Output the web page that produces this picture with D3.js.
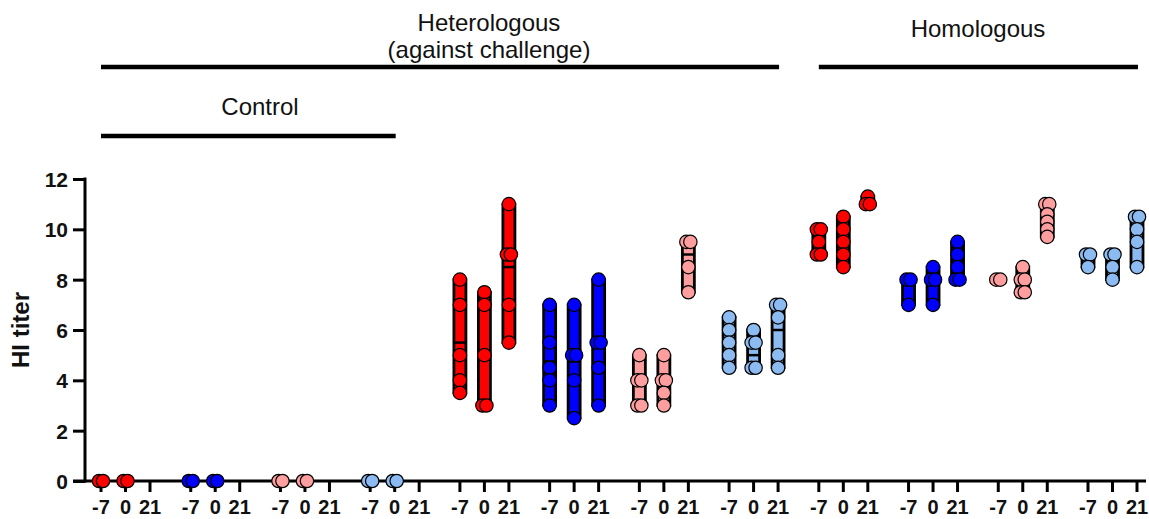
<!DOCTYPE html>
<html>
<head>
<meta charset="utf-8">
<script src="https://cdn.jsdelivr.net/npm/d3@7"></script>
<style>
  html, body { margin: 0; padding: 0; background: #fff; }
  svg { display: block; }
  text { font-family: "Liberation Sans", Arial, sans-serif; }
</style>
</head>
<body>
<svg id="chart" width="1149" height="519"></svg>
<script>
// ---------------- DATA ----------------
const groups = ["Ctrl-A", "Ctrl-B", "Ctrl-C", "Ctrl-D",
                "Het-A", "Het-B", "Het-C", "Het-D",
                "Hom-A", "Hom-B", "Hom-C", "Hom-D"];
const days = ["-7", "0", "21"];
const groupColors = ["#FF0000", "#0000FF", "#FF9E9E", "#8CBBF2",
                     "#FF0000", "#0000FF", "#FF9E9E", "#8CBBF2",
                     "#FF0000", "#0000FF", "#FF9E9E", "#8CBBF2"];
// HI titer values per group, per day (-7, 0, 21)
const ctrlA = [[0, 0], [0, 0], []];
const ctrlB = [[0, 0], [0, 0], []];
const ctrlC = [[0, 0], [0, 0], []];
const ctrlD = [[0, 0], [0, 0], []];
const hetA = [[8, 7, 5, 4, 3.5], [7.5, 7, 5, 3, 3], [11, 9, 9, 7, 5.5]];
const hetB = [[7, 5.5, 4.5, 4, 3], [7, 5, 5, 4, 2.5], [8, 5.5, 5.5, 4.5, 3]];
const hetC = [[5, 4, 4, 3, 3], [5, 4, 4, 3.5, 3], [9.5, 9.5, 8.5, 7.5]];
const hetD = [[6.5, 6, 5.5, 5, 4.5], [6, 5.5, 5.5, 4.5, 4.5], [7, 7, 6.5, 5, 4.5]];
const homA = [[10, 10, 9.5, 9, 9], [10.5, 10, 9.5, 9, 8.5], [11.3, 11, 11]];
const homB = [[8, 8, 7], [8.5, 8, 8, 7], [9.5, 9, 8.5, 8, 8]];
const homC = [[8, 8], [8.5, 8, 8, 7.5, 7.5], [11, 11, 10.6, 10.3, 10, 9.7]];
const homD = [[9, 9, 8.5], [9, 9, 8.5, 8], [10.5, 10.5, 10, 9.5, 8.5]];
// medians (horizontal line in each floating bar)
const medians = [
  [0, 0, null], [0, 0, null], [0, 0, null], [0, 0, null],
  [5.5, 5, 8.5], [4.75, 4.75, 5.5], [4, 4, 9], [5.5, 5, 6],
  [9.5, 9.5, 11], [8, 8, 8.5], [8, 8, 10.3], [9, 8.75, 10]
];
const groupValues = [ctrlA, ctrlB, ctrlC, ctrlD, hetA, hetB, hetC, hetD, homA, homB, homC, homD];
const yTicks = [0, 2, 4, 6, 8, 10, 12];
const yLabel = "HI titer";
const brackets = [
  { label: ["Heterologous", "(against challenge)"], from: ["Ctrl-A", "-7"], to: ["Het-D", "21"], lineY: 67, textY: [31, 58], tx: 489 },
  { label: ["Homologous"], from: ["Hom-A", "-7"], to: ["Hom-D", "21"], lineY: 67, textY: [37], tx: 978 },
  { label: ["Control"], from: ["Ctrl-A", "-7"], to: ["Ctrl-D", "0"], lineY: 136, textY: [115], tx: 260 }
];

// ---------------- LAYOUT ----------------
const svg = d3.select("#chart");
const y = d3.scaleLinear().domain([0, 12]).range([481, 179]);
const xGroup = d3.scalePoint().domain(groups).range([101, 1088]);
const xDay = d3.scalePoint().domain(days).range([0, 49]);
const xPos = (g, d) => xGroup(g) + xDay(d);
const axisX = 85;

// flatten
const cells = [];
groups.forEach((g, gi) => {
  days.forEach((d, di) => {
    const vals = groupValues[gi][di];
    if (vals.length) {
      cells.push({ g, d, color: groupColors[gi], vals, med: medians[gi][di] });
    }
  });
});

// ---------------- AXES ----------------
const yAxis = d3.axisLeft(y).tickValues(yTicks).tickSize(12).tickPadding(5).tickFormat(d3.format("d"));
const gy = svg.append("g").attr("transform", `translate(${axisX},0)`).call(yAxis);
gy.select(".domain").remove();
gy.selectAll(".tick line").attr("stroke", "#000").attr("stroke-width", 3);
gy.selectAll(".tick text").attr("font-size", 21).attr("font-weight", "bold").attr("fill", "#111")
  .attr("dy", "0.36em")
  .style("font-family", "'Liberation Sans', Arial, sans-serif");
svg.append("line").attr("x1", axisX).attr("x2", axisX)
  .attr("y1", y(12) - 1.5).attr("y2", y(0) + 1.5)
  .attr("stroke", "#000").attr("stroke-width", 3);

// x axis
svg.append("line").attr("x1", 73).attr("x2", 1146).attr("y1", y(0)).attr("y2", y(0))
  .attr("stroke", "#000").attr("stroke-width", 3);
const xt = svg.append("g");
groups.forEach(g => {
  days.forEach(d => {
    const px = xPos(g, d);
    xt.append("line").attr("x1", px).attr("x2", px).attr("y1", y(0)).attr("y2", y(0) + 11)
      .attr("stroke", "#000").attr("stroke-width", 3);
    xt.append("text").attr("x", px).attr("y", 514).attr("text-anchor", "middle")
      .attr("font-size", 20).attr("font-weight", "bold").attr("fill", "#111").text(d);
  });
});

// y label
svg.append("text").attr("transform", `translate(29,330) rotate(-90)`)
  .attr("text-anchor", "middle").attr("font-size", 24).attr("font-weight", "bold")
  .attr("fill", "#111").text(yLabel);

// ---------------- BARS ----------------
const barW = 12;
const bars = svg.append("g");
cells.forEach(c => {
  const cx = xPos(c.g, c.d);
  const ext = d3.extent(c.vals);
  bars.append("rect")
    .attr("x", cx - barW / 2).attr("width", barW)
    .attr("y", y(ext[1])).attr("height", Math.max(0, y(ext[0]) - y(ext[1])))
    .attr("fill", c.color).attr("stroke", "#000").attr("stroke-width", 2.8);
  if (c.med != null) {
    bars.append("line").attr("x1", cx - barW / 2).attr("x2", cx + barW / 2)
      .attr("y1", y(c.med)).attr("y2", y(c.med)).attr("stroke", "#000").attr("stroke-width", 2.5);
  }
});

// ---------------- POINTS ----------------
const pts = svg.append("g");
cells.forEach(c => {
  const cx = xPos(c.g, c.d);
  const counts = d3.rollup(c.vals, v => v.length, v => v);
  const seen = new Map();
  c.vals.forEach(v => {
    const n = counts.get(v);
    const k = seen.get(v) || 0;
    seen.set(v, k + 1);
    const off = n > 1 ? (k - (n - 1) / 2) * 4 : 0;
    pts.append("circle").attr("cx", cx + off).attr("cy", y(v)).attr("r", 6.7)
      .attr("fill", c.color).attr("stroke", "#000").attr("stroke-width", 1.2);
  });
});

// ---------------- BRACKETS ----------------
brackets.forEach(b => {
  const x1 = xPos(b.from[0], b.from[1]);
  const x2 = xPos(b.to[0], b.to[1]) + 1;
  svg.append("line").attr("x1", x1).attr("x2", x2).attr("y1", b.lineY).attr("y2", b.lineY)
    .attr("stroke", "#000").attr("stroke-width", 4.5);
  b.label.forEach((t, i) => {
    svg.append("text").attr("x", b.tx).attr("y", b.textY[i]).attr("text-anchor", "middle")
      .attr("font-size", 24).attr("fill", "#111").text(t);
  });
});
</script>
</body>
</html>
